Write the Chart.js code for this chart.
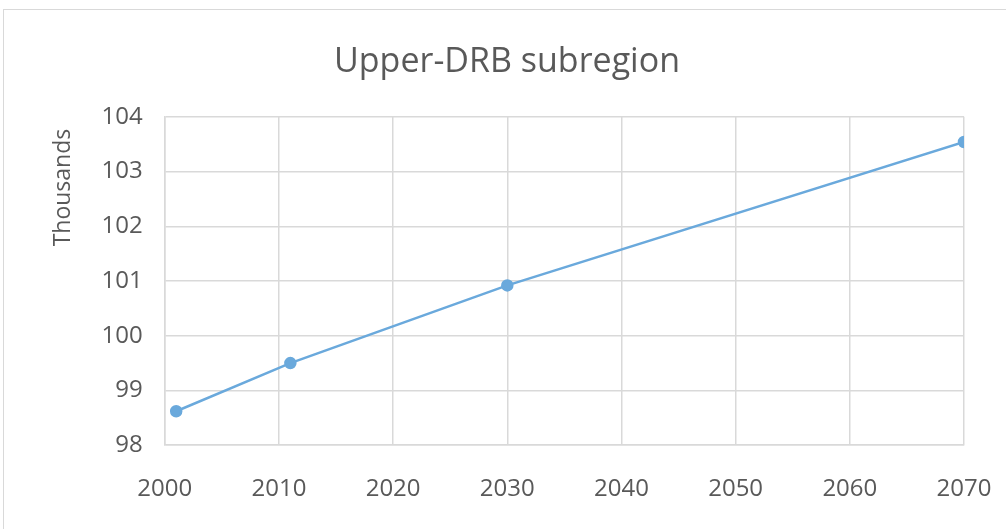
<!DOCTYPE html>
<html>
<head>
<meta charset="utf-8">
<script src="https://cdn.jsdelivr.net/npm/chart.js@4"></script>
<style>
  html, body { margin: 0; padding: 0; background: #fff; }
  #frame {
    position: absolute; left: 3px; top: 9px; width: 1010px; height: 530px;
    border: 1px solid #d9d9d9; box-sizing: border-box;
  }
  #wrap { position: absolute; left: 0; top: 0; width: 1006px; height: 529px; }
</style>
</head>
<body>
<div id="frame"></div>
<div id="wrap"><canvas id="chart"></canvas></div>
<script>
// Series (values in thousands)
const years = [2001, 2011, 2030, 2070];
const population = [98.62, 99.5, 100.92, 103.54];

const chartTitle = "Upper-DRB subregion";
const yTitle = "Thousands  ";

const lineColor = "#6aa9dc";
const gridColor = "#d9d9d9";
const textColor = "#595959";

const ctx = document.getElementById("chart").getContext("2d");

const chart = new Chart(ctx, {
  type: "line",
  data: {
    datasets: [
      {
        label: "Upper-DRB",
        data: years.map((y, i) => ({ x: y, y: population[i] })),
        borderColor: lineColor,
        backgroundColor: lineColor,
        borderWidth: 2.5,
        pointRadius: 5,
        pointHoverRadius: 5,
        tension: 0,
      },
    ],
  },
  options: {
    responsive: true,
    maintainAspectRatio: false,
    animation: false,
    // tick padding counts twice in the axis size, so bottom goes slightly negative
    layout: {
      padding: { left: 50, right: 42, top: 42, bottom: -5 },
    },
    scales: {
      x: {
        type: "linear",
        min: 2000,
        max: 2070,
        // the big tick padding also eats room on the right; the last label fits anyway
        afterFit: (scale) => {
          scale.paddingRight = 0;
        },
        ticks: {
          stepSize: 10,
          color: textColor,
          font: { family: "Open Sans", size: 24 },
          padding: 30,
          callback: (v) => String(v),
        },
        grid: { color: gridColor, lineWidth: 1.5, drawTicks: false },
        border: { color: gridColor, width: 1.5 },
      },
      y: {
        min: 98,
        max: 104,
        ticks: {
          stepSize: 1,
          color: textColor,
          font: { family: "Open Sans", size: 24 },
          padding: 22,
        },
        grid: { color: gridColor, lineWidth: 1.5, drawTicks: false },
        border: { color: gridColor, width: 1.5 },
        title: {
          display: true,
          text: yTitle,
          align: "end",
          color: textColor,
          font: { family: "Open Sans", size: 23 },
          padding: { top: 0, bottom: 2 },
        },
      },
    },
    plugins: {
      legend: { display: false },
      tooltip: { enabled: false },
      title: {
        display: true,
        text: chartTitle,
        color: textColor,
        font: { family: "Open Sans", size: 34, weight: "normal" },
        padding: { top: 0, bottom: 34 },
      },
    },
  },
});
</script>
</body>
</html>
